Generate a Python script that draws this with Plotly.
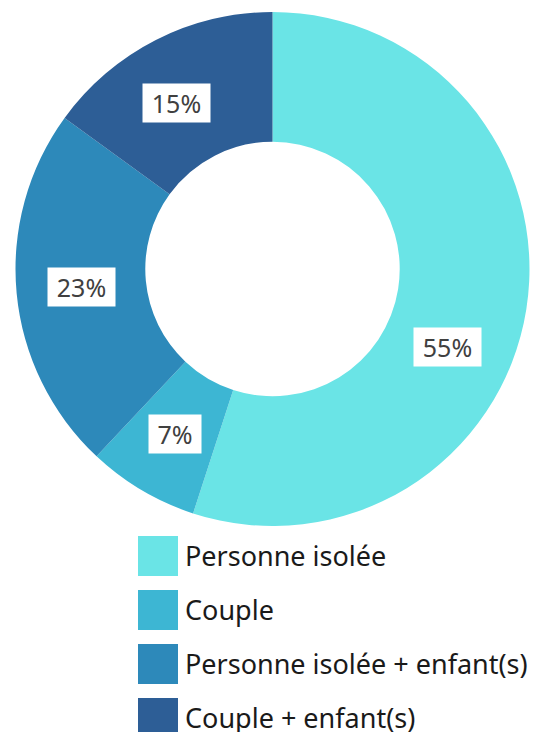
import math
import plotly.graph_objects as go

categories = ["Personne isolée", "Couple", "Personne isolée + enfant(s)", "Couple + enfant(s)"]
values = [55, 7, 23, 15]
colors = ["#6AE4E6", "#3DB6D3", "#2D89BA", "#2D5E96"]
label_angle_shift = [15, 0, 0, -3]  # degrees, manual label nudges as in reference

W, H = 540, 732
OFF = 8  # page body margin
cx, cy, R = 272.5 - OFF, 269 - OFF, 257
hole = 0.495

fig = go.Figure(go.Pie(
    labels=categories, values=values, sort=False, direction="clockwise",
    rotation=0, hole=hole, textinfo="none", hoverinfo="label+percent",
    marker=dict(colors=colors, line=dict(width=0)),
    domain=dict(x=[(cx - R) / W, (cx + R) / W], y=[1 - (cy + R) / H, 1 - (cy - R) / H]),
    showlegend=False,
))

total = sum(values)
cum = 0
annotations = []
shapes = []
rmid = R * (1 + hole) / 2
for i, v in enumerate(values):
    mid = (cum + v / 2) / total * 360 + label_angle_shift[i]
    cum += v
    a = math.radians(mid)
    px = cx + rmid * math.sin(a)
    py = cy - rmid * math.cos(a)
    txt = f"{round(v / total * 100)}%"
    annotations.append(dict(
        x=px / W, y=1 - py / H, xref="paper", yref="paper",
        xanchor="center", yanchor="middle",
        text=txt, showarrow=False,
        font=dict(family="Noto Sans, Open Sans, sans-serif", size=25, color="#404040"),
        bgcolor="white", borderpad=3, width=61 if len(txt) == 3 else 46, height=32,
    ))

# custom legend
leg_x0, leg_y0, sq, step = 138 - OFF, 536 - OFF, 40, 54
for i, (c, lab) in enumerate(zip(colors, categories)):
    y0 = leg_y0 + i * step
    shapes.append(dict(type="rect", xref="paper", yref="paper",
                       x0=leg_x0 / W, x1=(leg_x0 + sq) / W,
                       y0=1 - (y0 + sq) / H, y1=1 - y0 / H,
                       fillcolor=c, line=dict(width=0)))
    annotations.append(dict(
        x=(leg_x0 + sq + 5) / W, y=1 - (y0 + sq / 2 - 1) / H, xref="paper", yref="paper",
        xanchor="left", yanchor="middle", text=lab, showarrow=False,
        font=dict(family="Noto Sans, Open Sans, sans-serif", size=27, color="#1a1a1a"),
    ))

fig.update_layout(
    width=W, height=H, margin=dict(l=0, r=0, t=0, b=0),
    paper_bgcolor="white", plot_bgcolor="white",
    annotations=annotations, shapes=shapes,
)
fig.write_html("out.html")
